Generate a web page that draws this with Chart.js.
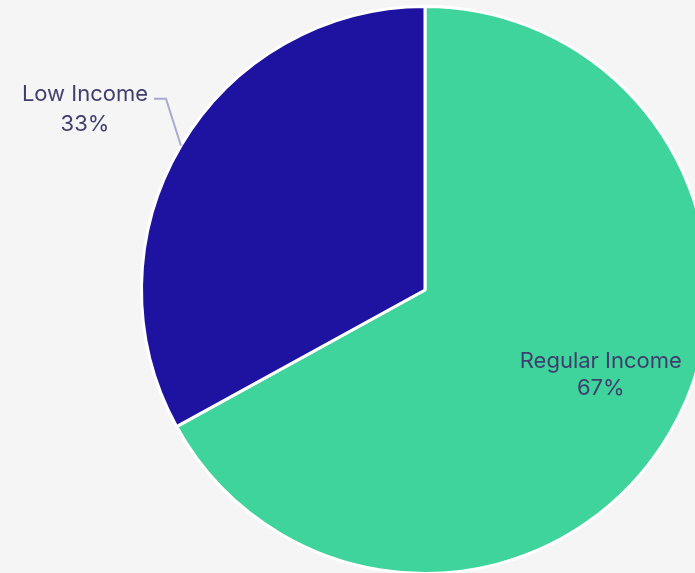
<!DOCTYPE html>
<html>
<head>
<meta charset="utf-8">
<script src="https://cdn.jsdelivr.net/npm/chart.js@4"></script>
<style>
  html, body { margin: 0; padding: 0; background: #f5f5f5; overflow: hidden; }
  #wrap { width: 850px; height: 580px; }
</style>
</head>
<body>
<div id="wrap"><canvas id="myChart" width="850" height="580"></canvas></div>
<script>
// Donnees du graphique
const categories = ["Regular Income", "Low Income"];
const valeurs = [67, 33];
const couleurs = ["#3ed49b", "#1e13a0"];

// Plugin pour dessiner les etiquettes (dedans pour la grande part, dehors avec trait pour la petite)
const etiquettes = {
    id: "etiquettes",
    afterDatasetsDraw(chart) {
        const ctx = chart.ctx;
        const arcs = chart.getDatasetMeta(0).data;
        ctx.save();
        ctx.font = "22px Inter, sans-serif";
        ctx.fillStyle = "#3f3e6e";
        ctx.textAlign = "center";
        ctx.textBaseline = "middle";
        arcs.forEach((arc, i) => {
            const p = arc.getProps(["x", "y", "startAngle", "endAngle", "outerRadius"], true);
            const mid = (p.startAngle + p.endAngle) / 2;
            const txt = categories[i];
            const pct = valeurs[i] + "%";
            if (i === 0) {
                // position a l'interieur de la part verte
                const x = p.x + p.outerRadius * 0.62;
                const y = p.y + p.outerRadius * 0.3;
                ctx.fillText(txt, x, y - 14);
                ctx.fillText(pct, x, y + 13);
            } else {
                // point sur le bord de la part
                const ex = p.x + Math.cos(mid) * p.outerRadius;
                const ey = p.y + Math.sin(mid) * p.outerRadius;
                const kx = ex - 15;
                const ky = ey - 47;
                ctx.strokeStyle = "#a9a8d2";
                ctx.lineWidth = 2;
                ctx.beginPath();
                ctx.moveTo(ex, ey);
                ctx.lineTo(kx, ky);
                ctx.lineTo(kx - 12, ky);
                ctx.stroke();
                ctx.fillText(txt, kx - 81, ky - 4);
                ctx.fillText(pct, kx - 81, ky + 26);
            }
        });
        ctx.restore();
    }
};

const ctx = document.getElementById("myChart").getContext("2d");
new Chart(ctx, {
    type: "pie",
    data: {
        labels: categories,
        datasets: [{
            data: valeurs,
            backgroundColor: couleurs,
            borderColor: "#ffffff",
            borderWidth: 3
        }]
    },
    options: {
        responsive: false,
        animation: false,
        layout: { padding: 5 },
        plugins: {
            legend: { display: false },
            tooltip: { enabled: false }
        }
    },
    plugins: [etiquettes]
});
</script>
</body>
</html>
